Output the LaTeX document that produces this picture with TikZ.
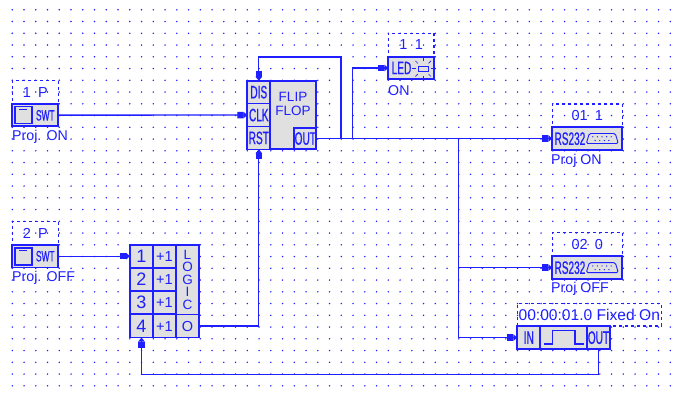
\documentclass[tikz,border=0pt]{standalone}
\usepackage{fontspec}
\setmainfont{Liberation Sans}
\newfontfamily\narrowfont[FakeStretch=0.56,FakeBold=0.6]{Liberation Sans}
\usetikzlibrary{positioning,arrows.meta}
\definecolor{wireblue}{HTML}{1F1FFF}
\definecolor{cellgray}{HTML}{E0E0E0}
\begin{document}
\begin{tikzpicture}[x=1pt, y=-1pt,
    cell/.style={rectangle, draw=wireblue, fill=cellgray, line width=1.7pt, inner sep=0pt,
                 outer sep=0pt, text=wireblue, font=\fontsize{18}{18}\narrowfont},
    tagbox/.style={rectangle, draw=wireblue, dashed, line width=1.2pt, inner sep=0pt, outer sep=0pt,
                 anchor=south west, text=wireblue, font=\fontsize{14.5}{14.5}\selectfont},
    caption/.style={anchor=west, inner sep=0pt, text=wireblue, font=\fontsize{14.2}{14.2}\selectfont},
    plain/.style={cell, draw=none, fill=none},
    wire/.style={draw=wireblue, line width=1.35pt},
    feed/.style={wire, -{Square[length=6pt,width=6.5pt]Triangle[length=4pt,width=6.5pt]}}]
    \useasboundingbox (0,0) rectangle (673,396);
    % grid
    \foreach \i in {0,...,56}
        \foreach \j in {0,...,32}
            \fill[wireblue] ({12.3+11.75*\i},{9.8+11.75*\j}) circle (0.85pt);

    % switches
    \node[cell, minimum width=46pt, minimum height=22.5pt, anchor=north west] (swtA) at (12.3,103.85) {};
    \node[cell, minimum width=17pt, minimum height=17pt] (btnA) at (23.8,115.1) {};
    \node[plain, font=\fontsize{15}{15}\narrowfont] (swtAtext) at (45.3,115.3) {SWT};
    \node[tagbox, minimum width=46pt, minimum height=23pt] (tagA) at (swtA.north west) {1\enspace P};
    \node[caption] (capA) at (12,137) {Proj. ON};
    \node[cell, minimum width=46pt, minimum height=22.5pt, anchor=north west] (swtB) at (12.3,244.95) {};
    \node[cell, minimum width=17pt, minimum height=17pt] (btnB) at (23.8,256.2) {};
    \node[plain, font=\fontsize{15}{15}\narrowfont] (swtBtext) at (45.3,256.2) {SWT};
    \node[tagbox, minimum width=46pt, minimum height=23.7pt] (tagB) at (swtB.north west) {2\enspace P};
    \node[caption] (capB) at (12,278) {Proj. OFF};
    \foreach \b in {btnA,btnB}
        \draw[wire] ([xshift=-4.5pt,yshift=-2.7pt]\b.north) -- ([xshift=3pt,yshift=-2.7pt]\b.north);

    % flip flop
    \node[cell, minimum width=69pt, minimum height=68.6pt, anchor=north west] (ff) at (247.3,80.7) {};
    \node[cell, minimum width=23pt, minimum height=22.9pt, anchor=north west] (dis) at (ff.north west) {DIS};
    \node[cell, minimum width=23pt, minimum height=22.9pt, below=0pt of dis] (clk) {CLK};
    \node[cell, minimum width=23pt, minimum height=22.9pt, below=0pt of clk] (rst) {RST};
    \node[cell, minimum width=22pt, minimum height=21.6pt, anchor=south east] (out) at (ff.south east) {OUT};
    \node[plain, align=center, font=\fontsize{13.5}{14}\selectfont] (fftext) at (293,104) {FLIP\\FLOP};

    % led
    \node[cell, minimum width=45.7pt, minimum height=22.6pt, anchor=north west] (led) at (388.3,56.7) {};
    \node[plain] (ledtext) at (401.5,68) {LED};
    \node[tagbox, minimum width=45.7pt, minimum height=23.4pt] (tagL) at (led.north west) {1\enspace 1};
    \node[caption] (capL) at (388,90.7) {ON};
    \draw[wire, line width=.9pt] (418.5,66.5) rectangle (428,71);
    \foreach \a in {0,45,...,315}
        \draw[wireblue, line width=.7pt] ([shift={(\a:7.5pt)}]423.2,68.7) -- ([shift={(\a:11pt)}]423.2,68.7);

    % serial outputs
    \node[cell, minimum width=70pt, minimum height=23pt, anchor=north west] (rsA) at (552.3,127) {};
    \node[plain, anchor=west] (rsAtext) at (554.5,138.7) {RS232};
    \node[tagbox, minimum width=70pt, minimum height=23pt] (tagR) at (rsA.north west) {01\enspace 1};
    \node[caption] (capR) at (551,160.7) {Proj ON};
    \node[cell, minimum width=70pt, minimum height=23.3pt, anchor=north west] (rsB) at (552.3,256) {};
    \node[plain, anchor=west] (rsBtext) at (554.5,267.7) {RS232};
    \node[tagbox, minimum width=70pt, minimum height=23.3pt] (tagS) at (rsB.north west) {02\enspace 0};
    \node[caption] (capS) at (551,289.3) {Proj OFF};
    \foreach \r in {rsA,rsB} {
        \begin{scope}[shift={(\r.center)}]
            \draw[wire, line width=.9pt, rounded corners=1.5pt] (2,-5) -- (28,-5) -- (31,5) -- (-1,5) -- cycle;
            \foreach \k in {0,...,4}
                \fill[wireblue] ({5.5+4.6*\k},-1.7) circle (0.7pt);
            \foreach \k in {0,...,3}
                \fill[wireblue] ({7.8+4.6*\k},2) circle (0.7pt);
        \end{scope}
    }

    % logic
    \foreach \n/\y in {1/244.7,2/268,3/291.3,4/314.6} {
        \node[cell, minimum width=23pt, minimum height=23pt, anchor=north west, font=\fontsize{18}{18}\selectfont] (in\n) at (130,\y) {\n};
        \node[cell, minimum width=23pt, minimum height=23pt, right=0pt of in\n, font=\fontsize{14.5}{14.5}\selectfont] (inc\n) {+1};
    }
    \node[cell, minimum width=23pt, minimum height=69.9pt, anchor=north west, align=center, font=\fontsize{13.5}{12.6}\selectfont] (logic) at (inc1.north east) {L\\O\\G\\I\\C};
    \node[cell, minimum width=23pt, minimum height=23pt, right=0pt of inc4, font=\fontsize{14.5}{14.5}\selectfont] (lout) {O};

    % timer
    \node[cell, minimum width=23pt, minimum height=23.3pt, anchor=north west] (tin) at (517.3,326) {IN};
    \node[cell, minimum width=46.7pt, minimum height=23.3pt, right=0pt of tin] (pulse) {};
    \node[cell, minimum width=23pt, minimum height=23.3pt, right=0pt of pulse] (tout) {OUT};
    \node[tagbox, minimum width=144pt, minimum height=22.7pt, font=\fontsize{15.6}{15.6}\selectfont] (tagT) at (tin.north west) {00:00:01.0 Fixed On};
    \draw[wire] (544,344) -- (552.7,344) -- (552.7,330.7) -- (575,330.7) -- (575,344) -- (584,344);

    % connections
    \coordinate (jfb) at (341,138.5);
    \coordinate (jled) at (352.7,138.5);
    \coordinate (jrs) at (458.3,138.5);
    \draw[feed] (swtA.east) -- (clk.west);
    \draw[feed] (swtB.east) -- (in1.west);
    \draw[feed] (out.east) -- (rsA.west);
    \draw[feed] (jfb) -- ++(0,-81.5) -| (dis.north);
    \draw[feed] (jled) |- (led.west);
    \draw[feed] (jrs) |- (rsB.west);
    \draw[feed] (jrs) |- (tin.west);
    \draw[feed] (lout.east) -| (rst.south);
    \draw[feed] (tout.south) -- ++(0,25) -| (in4.south);
\end{tikzpicture}
\end{document}
